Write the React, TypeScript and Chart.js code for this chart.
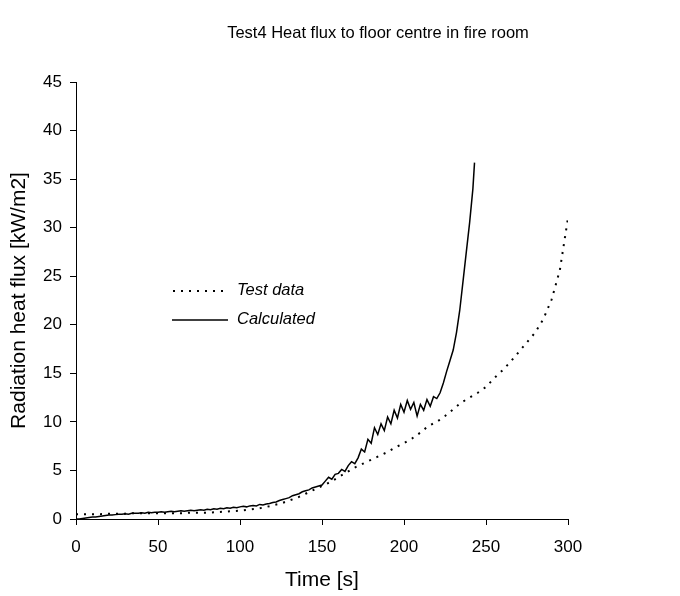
import React, { useEffect, useRef } from "react";
import { Chart, registerables } from "chart.js";

Chart.register(...registerables);

const titleText = "Test4 Heat flux to floor centre in fire room";
const xTitle = "Time [s]";
const yTitle = "Radiation heat flux [kW/m2]";
const seriesNames = ["Test data", "Calculated"];

const testTime = [0, 5, 10, 15, 20, 25, 30, 35, 40, 45, 50, 55, 60, 65, 70, 75, 80, 85, 90, 95, 100, 105, 110, 115, 120, 125, 130, 135, 140, 145, 150, 155, 160, 165, 170, 175, 180, 185, 190, 195, 200, 205, 210, 215, 220, 225, 230, 235, 240, 245, 250, 255, 260, 265, 270, 275, 280, 285, 290, 295, 300];
const testFlux = [0.5, 0.5, 0.5, 0.5, 0.55, 0.55, 0.55, 0.6, 0.6, 0.6, 0.6, 0.6, 0.6, 0.6, 0.65, 0.65, 0.65, 0.7, 0.75, 0.8, 0.85, 0.95, 1.05, 1.2, 1.4, 1.6, 1.9, 2.2, 2.6, 3.0, 3.4, 3.8, 4.3, 4.8, 5.3, 5.7, 6.1, 6.5, 6.9, 7.4, 7.8, 8.3, 8.9, 9.6, 10.0, 10.6, 11.3, 12.0, 12.5, 13.0, 13.6, 14.5, 15.3, 16.2, 17.2, 18.2, 19.2, 20.6, 22.6, 25.6, 31.0];

const calcTime = [0, 2, 4, 6, 8, 10, 12, 14, 16, 18, 20, 22, 24, 26, 28, 30, 32, 34, 36, 38, 40, 42, 44, 46, 48, 50, 52, 54, 56, 58, 60, 62, 64, 66, 68, 70, 72, 74, 76, 78, 80, 82, 84, 86, 88, 90, 92, 94, 96, 98, 100, 102, 104, 106, 108, 110, 112, 114, 116, 118, 120, 122, 124, 126, 128, 130, 132, 134, 136, 138, 140, 142, 144, 146, 148, 150, 152, 154, 156, 158, 160, 162, 164, 166, 168, 170, 172, 174, 176, 178, 180, 182, 184, 186, 188, 190, 192, 194, 196, 198, 200, 202, 204, 206, 208, 210, 212, 214, 216, 218, 220, 222, 224, 226, 228, 230, 232, 234, 236, 238, 240, 242, 243];
const calcFlux = [0.0, 0.0, 0.05, 0.1, 0.15, 0.2, 0.2, 0.25, 0.3, 0.35, 0.4, 0.4, 0.45, 0.5, 0.5, 0.55, 0.5, 0.6, 0.6, 0.6, 0.65, 0.6, 0.7, 0.65, 0.7, 0.7, 0.75, 0.7, 0.75, 0.8, 0.75, 0.8, 0.85, 0.8, 0.85, 0.9, 0.85, 0.9, 0.95, 0.9, 1.0, 0.95, 1.05, 1.0, 1.1, 1.05, 1.15, 1.1, 1.2, 1.15, 1.25, 1.3, 1.25, 1.35, 1.4, 1.35, 1.5, 1.45, 1.55, 1.6, 1.7, 1.75, 1.9, 2.0, 2.1, 2.2, 2.4, 2.5, 2.6, 2.8, 2.9, 3.0, 3.2, 3.3, 3.4, 3.5, 3.9, 4.3, 4.1, 4.6, 4.7, 5.1, 4.9, 5.5, 5.9, 5.7, 6.3, 7.2, 6.9, 8.2, 7.8, 9.4, 8.7, 9.8, 9.1, 10.5, 9.8, 11.2, 10.4, 11.8, 11.0, 12.2, 11.3, 12.0, 10.6, 11.8, 11.2, 12.3, 11.6, 12.6, 12.4, 13.0, 14.0, 15.2, 16.3, 17.4, 19.2, 21.5, 24.5, 27.5, 30.5, 34.0, 36.7];

const xTicks = [0, 50, 100, 150, 200, 250, 300];
const yTicks = [0, 5, 10, 15, 20, 25, 30, 35, 40, 45];

const FONT = "'Liberation Sans', Arial, sans-serif";

export default function App() {
  const ref = useRef<HTMLCanvasElement | null>(null);

  useEffect(() => {
    document.body.style.margin = "0";
    const canvas = ref.current;
    if (!canvas) return;

    const overlay = {
      id: "overlay",
      afterDraw(chart: any) {
        const ctx = chart.ctx;
        ctx.save();
        ctx.fillStyle = "#000";
        ctx.font = `16.5px ${FONT}`;
        ctx.textAlign = "center";
        ctx.textBaseline = "middle";
        ctx.fillText(titleText, 378, 33);

        // legend
        ctx.strokeStyle = "#000";
        ctx.lineWidth = 2;
        ctx.setLineDash([2, 6]);
        ctx.beginPath();
        ctx.moveTo(173, 291);
        ctx.lineTo(228, 291);
        ctx.stroke();
        ctx.setLineDash([]);
        ctx.lineWidth = 1.5;
        ctx.beginPath();
        ctx.moveTo(172, 320);
        ctx.lineTo(228, 320);
        ctx.stroke();
        ctx.font = `italic 16.5px ${FONT}`;
        ctx.textAlign = "left";
        ctx.fillText(seriesNames[0], 237, 290);
        ctx.fillText(seriesNames[1], 237, 319);
        ctx.restore();
      },
    };

    const chart = new Chart(canvas, {
      type: "line",
      data: {
        datasets: [
          {
            label: seriesNames[0],
            data: testTime.map((t, i) => ({ x: t, y: testFlux[i] })),
            borderColor: "#000",
            borderWidth: 2,
            borderDash: [2, 6],
            pointRadius: 0,
            tension: 0,
            fill: false,
          },
          {
            label: seriesNames[1],
            data: calcTime.map((t, i) => ({ x: t, y: calcFlux[i] })),
            borderColor: "#000",
            borderWidth: 1.5,
            pointRadius: 0,
            tension: 0,
            fill: false,
          },
        ],
      },
      options: {
        animation: false,
        responsive: false,
        maintainAspectRatio: false,
        layout: { padding: { top: 82, right: 112, bottom: 0, left: 0 } },
        plugins: {
          legend: { display: false },
          title: { display: false },
          tooltip: { enabled: false },
        },
        scales: {
          x: {
            type: "linear",
            min: 0,
            max: 300,
            afterFit: (s: any) => {
              s.height = 77;
            },
            afterBuildTicks: (s: any) => {
              s.ticks = xTicks.map((v) => ({ value: v }));
            },
            grid: {
              drawOnChartArea: false,
              drawTicks: true,
              tickLength: 6,
              color: "#000",
            },
            border: { display: true, color: "#000", width: 1 },
            ticks: {
              color: "#000",
              font: { family: FONT, size: 17 },
              padding: 12,
              maxRotation: 0,
            },
            title: {
              display: true,
              text: xTitle,
              color: "#000",
              font: { family: FONT, size: 21 },
              padding: { top: 0, bottom: 3 },
            },
          },
          y: {
            type: "linear",
            min: 0,
            max: 45,
            afterFit: (s: any) => {
              s.width = 76;
            },
            afterBuildTicks: (s: any) => {
              s.ticks = yTicks.map((v) => ({ value: v }));
            },
            grid: {
              drawOnChartArea: false,
              drawTicks: true,
              tickLength: 6,
              color: "#000",
            },
            border: { display: true, color: "#000", width: 1 },
            ticks: {
              color: "#000",
              font: { family: FONT, size: 17 },
              padding: 8,
            },
            title: {
              display: true,
              text: yTitle,
              color: "#000",
              font: { family: FONT, size: 21 },
              padding: { top: 7, bottom: 0 },
            },
          },
        },
      },
      plugins: [overlay],
    } as any);

    return () => chart.destroy();
  }, []);

  return (
    <div style={{ width: 680, height: 596, background: "#fff" }}>
      <canvas ref={ref} width={680} height={596} style={{ display: "block" }} />
    </div>
  );
}
